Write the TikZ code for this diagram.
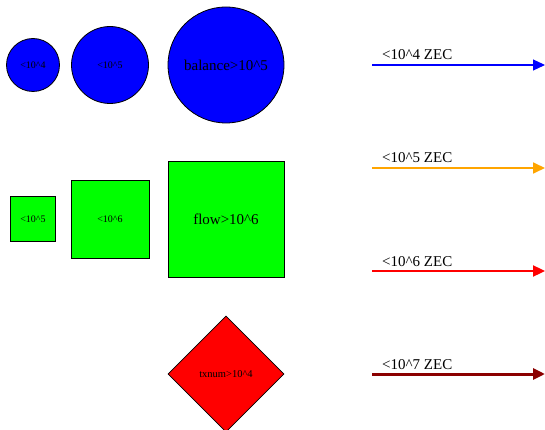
\documentclass[tikz,border=0pt]{standalone}
\usepackage{fontspec}
\setmainfont{Liberation Serif}
\usepackage{tikz}
\usetikzlibrary{arrows.meta, positioning, shapes.geometric}
\usepackage{xcolor}
\definecolor{bluefill}{RGB}{0,0,255}
\definecolor{greenfill}{RGB}{0,255,0}
\definecolor{redfill}{RGB}{255,0,0}
\definecolor{orangeline}{RGB}{255,165,0}
\definecolor{darkredline}{RGB}{139,0,0}

\tikzset{
  balcircle/.style={circle, draw=black, fill=bluefill, inner sep=0pt, line width=0.8pt},
  flowsquare/.style={rectangle, draw=black, fill=greenfill, inner sep=0pt, line width=0.8pt},
  txdiamond/.style={diamond, draw=black, fill=redfill, inner sep=0pt, line width=0.8pt},
  legline/.style={-{Triangle[length=12pt, width=11pt]}},
  leglabel/.style={anchor=base west, inner sep=0pt, font=\fontsize{15}{15}\selectfont},
}

\begin{document}
\begin{tikzpicture}[x=1pt, y=-1pt]
  \useasboundingbox (0,0) rectangle (545,430);
  % balance circles
  \node[balcircle, minimum size=53pt, font=\fontsize{10}{10}\selectfont] (bal4) at (33,65) {<10\^{}4};
  \node[balcircle, minimum size=77pt, font=\fontsize{10}{10}\selectfont] (bal5) at (110,65) {<10\^{}5};
  \node[balcircle, minimum size=116pt, font=\fontsize{15}{15}\selectfont] (balbig) at (226,65) {balance>10\^{}5};
  % flow squares
  \node[flowsquare, minimum size=45pt, font=\fontsize{10}{10}\selectfont] (flow5) at (33,219) {<10\^{}5};
  \node[flowsquare, minimum size=78pt, font=\fontsize{10}{10}\selectfont] (flow6) at (110,219) {<10\^{}6};
  \node[flowsquare, minimum size=116pt, font=\fontsize{15}{15}\selectfont] (flowbig) at (226,219) {flow>10\^{}6};
  % txnum diamond
  \node[txdiamond, minimum size=116pt, font=\fontsize{10.5}{10.5}\selectfont] (txbig) at (226,374) {txnum>10\^{}4};
  % legend arrows
  \coordinate (a4s) at (372,65);   \coordinate (a4e) at (545,65);
  \coordinate (a5s) at (372,168);  \coordinate (a5e) at (545,168);
  \coordinate (a6s) at (372,271);  \coordinate (a6e) at (545,271);
  \coordinate (a7s) at (372,374);  \coordinate (a7e) at (545,374);
  \draw[legline, bluefill, line width=1.2pt] (a4s) -- (a4e);
  \draw[legline, orangeline, line width=1.7pt] (a5s) -- (a5e);
  \draw[legline, redfill, line width=2.3pt] (a6s) -- (a6e);
  \draw[legline, darkredline, line width=3pt] (a7s) -- (a7e);
  \node[leglabel] (lab4) at (382,60) {<10\^{}4 ZEC};
  \node[leglabel] (lab5) at (382,163) {<10\^{}5 ZEC};
  \node[leglabel] (lab6) at (382,266) {<10\^{}6 ZEC};
  \node[leglabel] (lab7) at (382,369) {<10\^{}7 ZEC};
\end{tikzpicture}
\end{document}
